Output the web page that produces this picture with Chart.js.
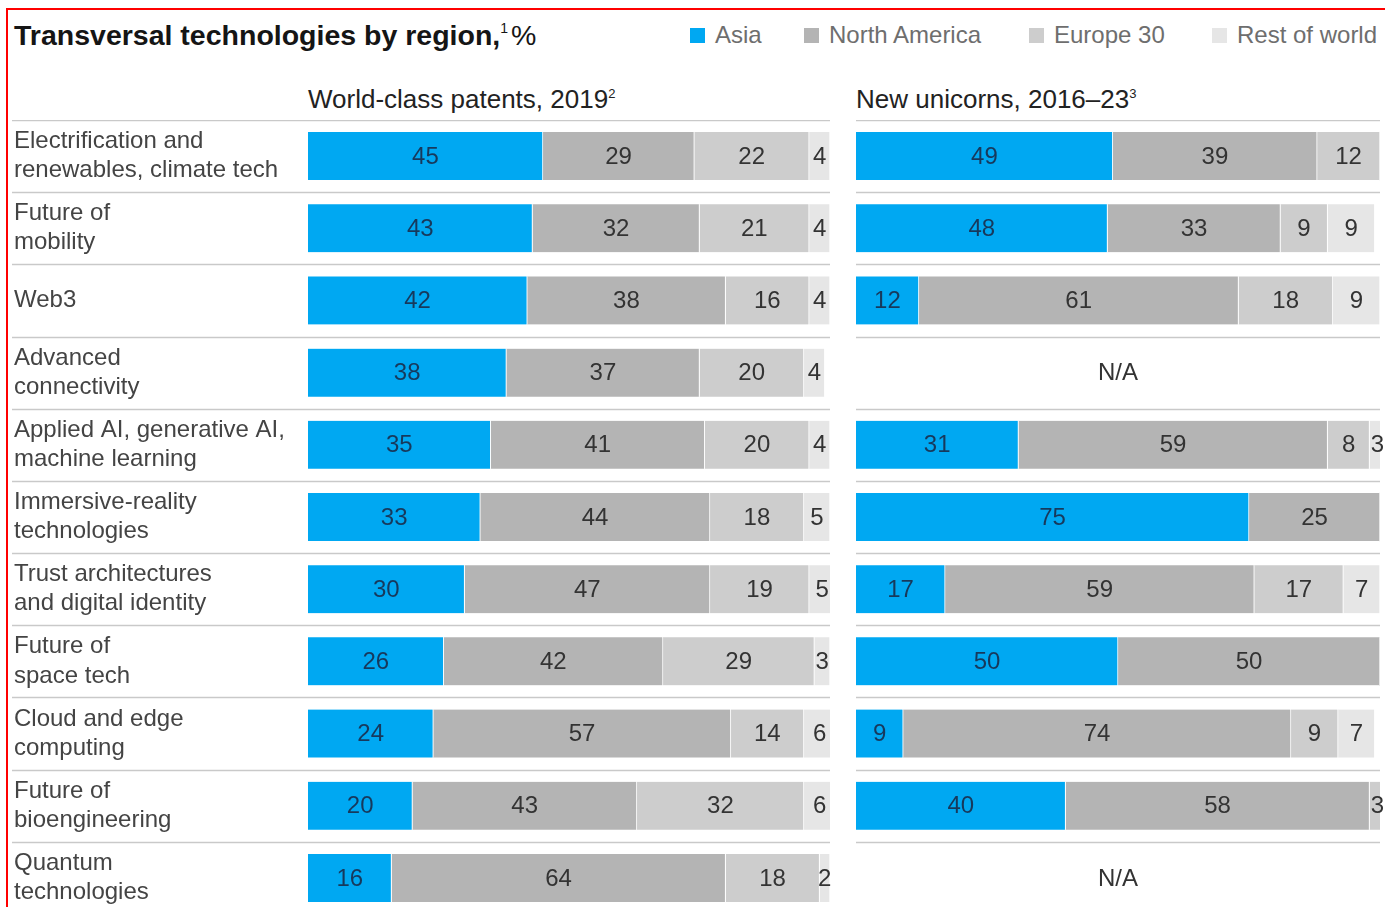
<!DOCTYPE html>
<html>
<head>
<meta charset="utf-8">
<script src="https://cdn.jsdelivr.net/npm/chart.js"></script>
<style>
  body { margin: 0; background: #fff; width: 1385px; height: 907px; overflow: hidden; position: relative;
         font-family: "Liberation Sans", Arial, sans-serif; }
  .frame { position: absolute; left: 6px; top: 8px; width: 1400px; height: 920px;
           border-left: 2px solid #f00; border-top: 2px solid #f00; }
  .title { position: absolute; left: 14px; top: 17px; font-size: 28.5px; line-height: 36px; color: #151515; }
  .title b { font-weight: bold; }
  .title sup { font-size: 14px; vertical-align: 12px; line-height: 0; margin-right: 3px; }
  .legend { position: absolute; top: 21px; height: 28px; font-size: 24px; line-height: 28px; color: #6e6e6e; }
  .legend i { position: absolute; left: 0; top: 7px; width: 15px; height: 15px; }
  .sub { position: absolute; top: 84px; font-size: 26px; line-height: 30px; color: #222; }
  .sub sup { font-size: 13px; vertical-align: 10px; line-height: 0; }
  .box { position: absolute; top: 120px; height: 794px; }
</style>
</head>
<body>
<div class="frame"></div>
<div class="title"><b>Transversal technologies by region,</b><sup>1</sup>%</div>
<div id="legend"></div>
<div class="sub" style="left:308px">World-class patents, 2019<sup>2</sup></div>
<div class="sub" style="left:856px">New unicorns, 2016–23<sup>3</sup></div>
<div class="box" style="left:12px; width:822px"><canvas id="patents-chart"></canvas></div>
<div class="box" style="left:856px; width:528px"><canvas id="unicorns-chart"></canvas></div>

<script>
const categories = [
  ["Electrification and", "renewables, climate tech"],
  ["Future of", "mobility"],
  "Web3",
  ["Advanced", "connectivity"],
  ["Applied AI, generative AI,", "machine learning"],
  ["Immersive-reality", "technologies"],
  ["Trust architectures", "and digital identity"],
  ["Future of", "space tech"],
  ["Cloud and edge", "computing"],
  ["Future of", "bioengineering"],
  ["Quantum", "technologies"],
];

const regions = ["Asia", "North America", "Europe 30", "Rest of world"];
const regionColors = ["#00a8f2", "#b4b4b4", "#cdcdcd", "#e6e6e6"];
const legendX = [690, 804, 1029, 1212];

// world-class patents, 2019
const patentsAsia = [45, 43, 42, 38, 35, 33, 30, 26, 24, 20, 16];
const patentsNorthAmerica = [29, 32, 38, 37, 41, 44, 47, 42, 57, 43, 64];
const patentsEurope = [22, 21, 16, 20, 20, 18, 19, 29, 14, 32, 18];
const patentsRest = [4, 4, 4, 4, 4, 5, 5, 3, 6, 6, 2];

// new unicorns, 2016-23 (null = N/A)
const unicornsAsia = [49, 48, 12, null, 31, 75, 17, 50, 9, 40, null];
const unicornsNorthAmerica = [39, 33, 61, null, 59, 25, 59, 50, 74, 58, null];
const unicornsEurope = [12, 9, 18, null, 8, 0, 17, 0, 9, 3, null];
const unicornsRest = [0, 9, 9, null, 3, 0, 7, 0, 7, 0, null];

const fontFamily = '"Liberation Sans", Arial, sans-serif';

// legend
const legendEl = document.getElementById("legend");
regions.forEach((name, i) => {
  const d = document.createElement("div");
  d.className = "legend";
  d.style.left = legendX[i] + "px";
  d.style.paddingLeft = "25px";
  d.innerHTML = '<i style="background:' + regionColors[i] + '"></i>' + name;
  legendEl.appendChild(d);
});

const rowLines = {
  id: "rowLines",
  beforeDatasetsDraw(chart, args, opts) {
    const ctx = chart.ctx;
    const y = chart.scales.y;
    const x0 = opts.fromZero ? 0 : chart.chartArea.left;
    ctx.save();
    ctx.strokeStyle = "#c9c9c9";
    ctx.lineWidth = 1.5;
    for (let i = 0; i <= categories.length; i++) {
      const yy = Math.round(y.getPixelForValue(i - 0.5)) + 0.5;
      ctx.beginPath();
      ctx.moveTo(x0, yy);
      ctx.lineTo(chart.chartArea.right, yy);
      ctx.stroke();
    }
    ctx.restore();
  },
};

const barValues = {
  id: "barValues",
  afterDatasetsDraw(chart) {
    const ctx = chart.ctx;
    ctx.save();
    ctx.font = "24px " + fontFamily;
    ctx.textAlign = "center";
    ctx.textBaseline = "middle";
    chart.data.datasets.forEach((ds, i) => {
      const meta = chart.getDatasetMeta(i);
      meta.data.forEach((bar, j) => {
        const v = ds.data[j];
        if (!v) return;
        ctx.fillStyle = i === 0 ? "#17395c" : "#333";
        ctx.fillText(String(v), (bar.x + bar.base) / 2, bar.y + 1);
      });
    });
    // rows without data
    const y = chart.scales.y;
    ctx.fillStyle = "#333";
    categories.forEach((c, j) => {
      const empty = chart.data.datasets.every((ds) => ds.data[j] === null);
      if (empty) {
        const cx = (chart.chartArea.left + chart.chartArea.right) / 2;
        ctx.fillText("N/A", cx, y.getPixelForValue(j) + 1);
      }
    });
    ctx.restore();
  },
};

function createChart(id, series, showLabels) {
  return new Chart(document.getElementById(id), {
    type: "bar",
    data: {
      labels: categories,
      datasets: series.map((data, i) => ({
        label: regions[i],
        data: data,
        backgroundColor: regionColors[i],
        borderColor: "#ffffff",
        borderWidth: { top: 0, bottom: 0, left: 0, right: 1 },
        borderSkipped: false,
        barThickness: 48,
      })),
    },
    options: {
      indexAxis: "y",
      responsive: true,
      maintainAspectRatio: false,
      animation: false,
      layout: { padding: { right: 4, top: 0, bottom: 0, left: showLabels ? 2 : 0 } },
      scales: {
        x: { stacked: true, min: 0, max: 100, display: false },
        y: {
          stacked: true,
          display: showLabels,
          grid: { display: false },
          border: { display: false },
          ticks: {
            crossAlign: "far",
            padding: 0,
            color: "#444",
            font: { family: fontFamily, size: 24, lineHeight: 1.21 },
          },
          afterFit(scale) {
            if (showLabels) scale.width = 294;
            // labels may spill into the next row's band, no extra vertical padding
            scale.paddingTop = 0;
            scale.paddingBottom = 0;
          },
        },
      },
      plugins: {
        legend: { display: false },
        tooltip: { enabled: false },
        rowLines: { fromZero: showLabels },
      },
    },
    plugins: [rowLines, barValues],
  });
}

createChart("patents-chart", [patentsAsia, patentsNorthAmerica, patentsEurope, patentsRest], true);
createChart("unicorns-chart", [unicornsAsia, unicornsNorthAmerica, unicornsEurope, unicornsRest], false);
</script>
</body>
</html>
